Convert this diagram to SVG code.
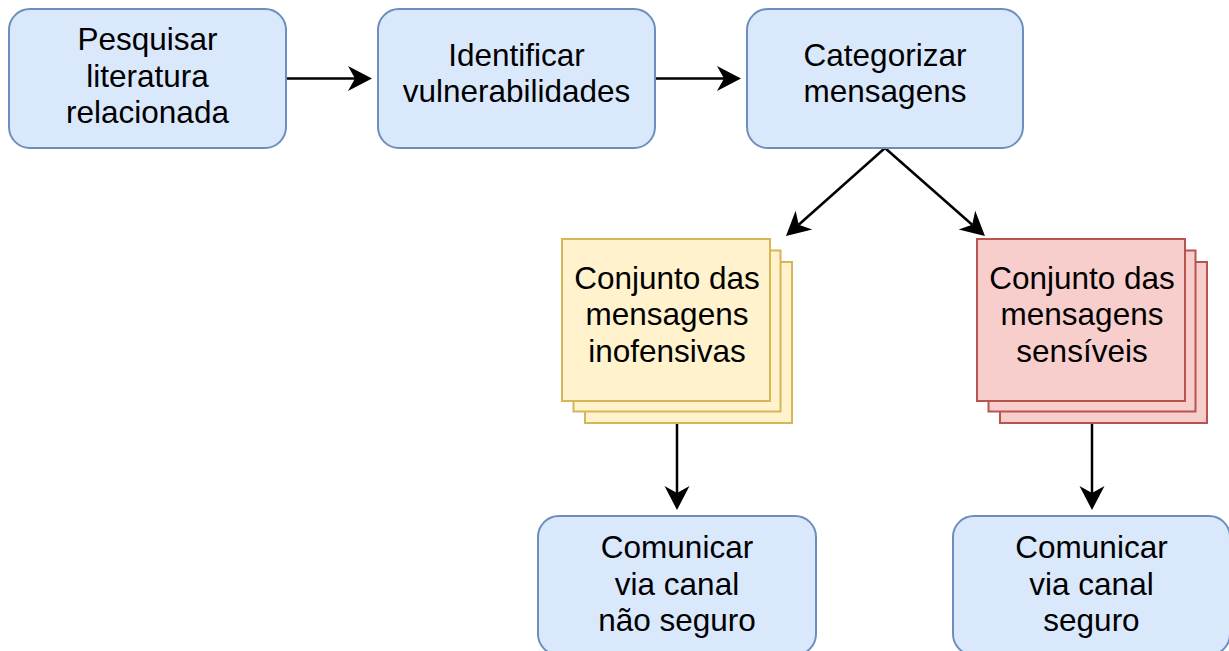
<svg xmlns="http://www.w3.org/2000/svg" width="1229" height="651" viewBox="0 0 1229 651">
<style>
.blue{fill:#dae8fc;stroke:#6c8ebf;stroke-width:2}
.yellow{fill:#fff2cc;stroke:#d6b656;stroke-width:2}
.red{fill:#f8cecc;stroke:#b85450;stroke-width:2}
.lbl{font-family:"Liberation Sans",Arial,Helvetica,sans-serif;font-size:31.5px;fill:#000;text-anchor:middle}
.edge{stroke:#000;stroke-width:2.5;fill:none}
</style>
<defs>
<marker id="arr" markerUnits="userSpaceOnUse" markerWidth="30" markerHeight="30" viewBox="-10 -15 30 30" refX="0" refY="0" orient="auto">
<path d="M17,0 L-7,-12.5 L0,0 L-7,12.5 Z" fill="#000"/>
</marker>
</defs>
<rect width="1229" height="651" fill="#fff"/>
<g id="connectors">
<line class="edge" x1="286" y1="78.5" x2="355" y2="78.5" marker-end="url(#arr)"/>
<line class="edge" x1="655" y1="78.5" x2="724" y2="78.5" marker-end="url(#arr)"/>
<line class="edge" x1="885" y1="148" x2="798.7" y2="224.7" marker-end="url(#arr)"/>
<line class="edge" x1="885" y1="148" x2="972.2" y2="224.8" marker-end="url(#arr)"/>
<line class="edge" x1="677" y1="423" x2="677" y2="493" marker-end="url(#arr)"/>
<line class="edge" x1="1092" y1="423" x2="1092" y2="493" marker-end="url(#arr)"/>
</g>
<g id="pesquisar">
<rect class="blue" x="9" y="9" width="277" height="139" rx="21"/>
<text class="lbl" x="147.5" y="50">Pesquisar</text>
<text class="lbl" x="147.5" y="86.5">literatura</text>
<text class="lbl" x="147.5" y="123">relacionada</text>
</g>
<g id="identificar">
<rect class="blue" x="378" y="9" width="277" height="139" rx="21"/>
<text class="lbl" x="516.5" y="65.5">Identificar</text>
<text class="lbl" x="516.5" y="102">vulnerabilidades</text>
</g>
<g id="categorizar">
<rect class="blue" x="747" y="9" width="276" height="139" rx="21"/>
<text class="lbl" x="885" y="65.5">Categorizar</text>
<text class="lbl" x="885" y="102">mensagens</text>
</g>
<g id="inofensivas">
<rect class="yellow" x="585" y="262" width="207" height="161"/>
<rect class="yellow" x="573.5" y="250.5" width="207" height="161"/>
<rect class="yellow" x="562" y="239" width="208" height="162"/>
<text class="lbl" x="667" y="288.5">Conjunto das</text>
<text class="lbl" x="667" y="325">mensagens</text>
<text class="lbl" x="667" y="361.5">inofensivas</text>
</g>
<g id="sensiveis">
<rect class="red" x="1000" y="262" width="207" height="161"/>
<rect class="red" x="988.5" y="250.5" width="207" height="161"/>
<rect class="red" x="977" y="239" width="208" height="162"/>
<text class="lbl" x="1082" y="288.5">Conjunto das</text>
<text class="lbl" x="1082" y="325">mensagens</text>
<text class="lbl" x="1082" y="361.5">sensíveis</text>
</g>
<g id="nao-seguro">
<rect class="blue" x="538" y="516" width="278" height="139" rx="21"/>
<text class="lbl" x="677" y="558">Comunicar</text>
<text class="lbl" x="677" y="594.5">via canal</text>
<text class="lbl" x="677" y="631">não seguro</text>
</g>
<g id="seguro">
<rect class="blue" x="953" y="516" width="277" height="139" rx="21"/>
<text class="lbl" x="1091.5" y="558">Comunicar</text>
<text class="lbl" x="1091.5" y="594.5">via canal</text>
<text class="lbl" x="1091.5" y="631">seguro</text>
</g>
</svg>
